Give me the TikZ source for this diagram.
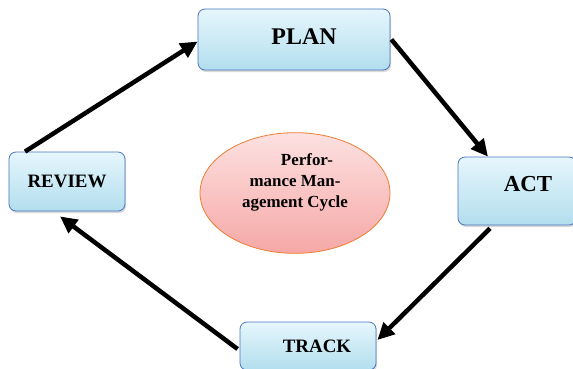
\documentclass[tikz,border=0pt]{standalone}
\usepackage{fontspec}
\setmainfont{Liberation Serif}
\usetikzlibrary{shapes, arrows.meta, shadows}
\definecolor{boxTop}{RGB}{230,246,252}
\definecolor{boxBottom}{RGB}{178,222,238}
\definecolor{boxLine}{RGB}{74,116,190}
\definecolor{cycleTop}{RGB}{253,225,225}
\definecolor{cycleBottom}{RGB}{245,168,166}
\definecolor{cycleLine}{RGB}{237,125,49}
\tikzstyle{stage}     = [rectangle, 
                         rounded corners=7bp, 
                         text centered, 
                         draw=boxLine, 
                         thick,
                         top color=boxTop,
                         bottom color=boxBottom,
                         drop shadow={opacity=0.3, shadow xshift=1bp, shadow yshift=-2bp},
                         font=\bfseries]
\tikzstyle{cycle}     = [ellipse,
                         minimum width=190bp, 
                         minimum height=110bp, 
                         align=center,
                         draw=cycleLine, 
                         thick,
                         top color=cycleTop,
                         bottom color=cycleBottom,
                         font=\bfseries\fontsize{17}{21}\selectfont]
\tikzstyle{arrow}     = [line width=4.5bp, -{Triangle[length=17bp, width=16bp]}]

\begin{document}
\begin{tikzpicture}[x=1bp, y=-1bp]
\useasboundingbox (0,0) rectangle (573,368);

\node [stage, minimum width=192bp, minimum height=61bp, 
       font=\bfseries\fontsize{24}{28}\selectfont] (PLAN)   at (294,39.5) {\hspace*{20bp}\raisebox{3bp}[\height][\depth]{PLAN}};
\node [stage, minimum width=118bp, minimum height=68bp, 
       font=\bfseries\fontsize{23}{27}\selectfont] (ACT)    at (517,191)  {\hspace*{22bp}\raisebox{7bp}[\height][\depth]{ACT}};
\node [stage, minimum width=116bp, minimum height=59bp, 
       font=\bfseries\fontsize{19}{23}\selectfont] (REVIEW) at (67,181.5)  {REVIEW};
\node [stage, minimum width=136bp, minimum height=48bp, 
       font=\bfseries\fontsize{19}{23}\selectfont] (TRACK)  at (308,346)  {\hspace*{18bp}TRACK};

\node [cycle] (PMC) at (295,193) {\hspace*{24bp}Perfor-\\mance Man-\\agement Cycle\\[4bp]};


\draw [arrow] ([xshift=-42bp]REVIEW.north) -- ([yshift=-2bp]PLAN.west);
\draw [arrow] ([xshift=1bp]PLAN.east) -- ([xshift=-29bp]ACT.north);
\draw [arrow] ([xshift=-27bp, yshift=-3bp]ACT.south) -- ([xshift=1bp, yshift=6bp]TRACK.east);
\draw [arrow] ([xshift=-2bp, yshift=-3bp]TRACK.west) -- ([xshift=-7bp, yshift=-5bp]REVIEW.south);

\end{tikzpicture}
\end{document}
